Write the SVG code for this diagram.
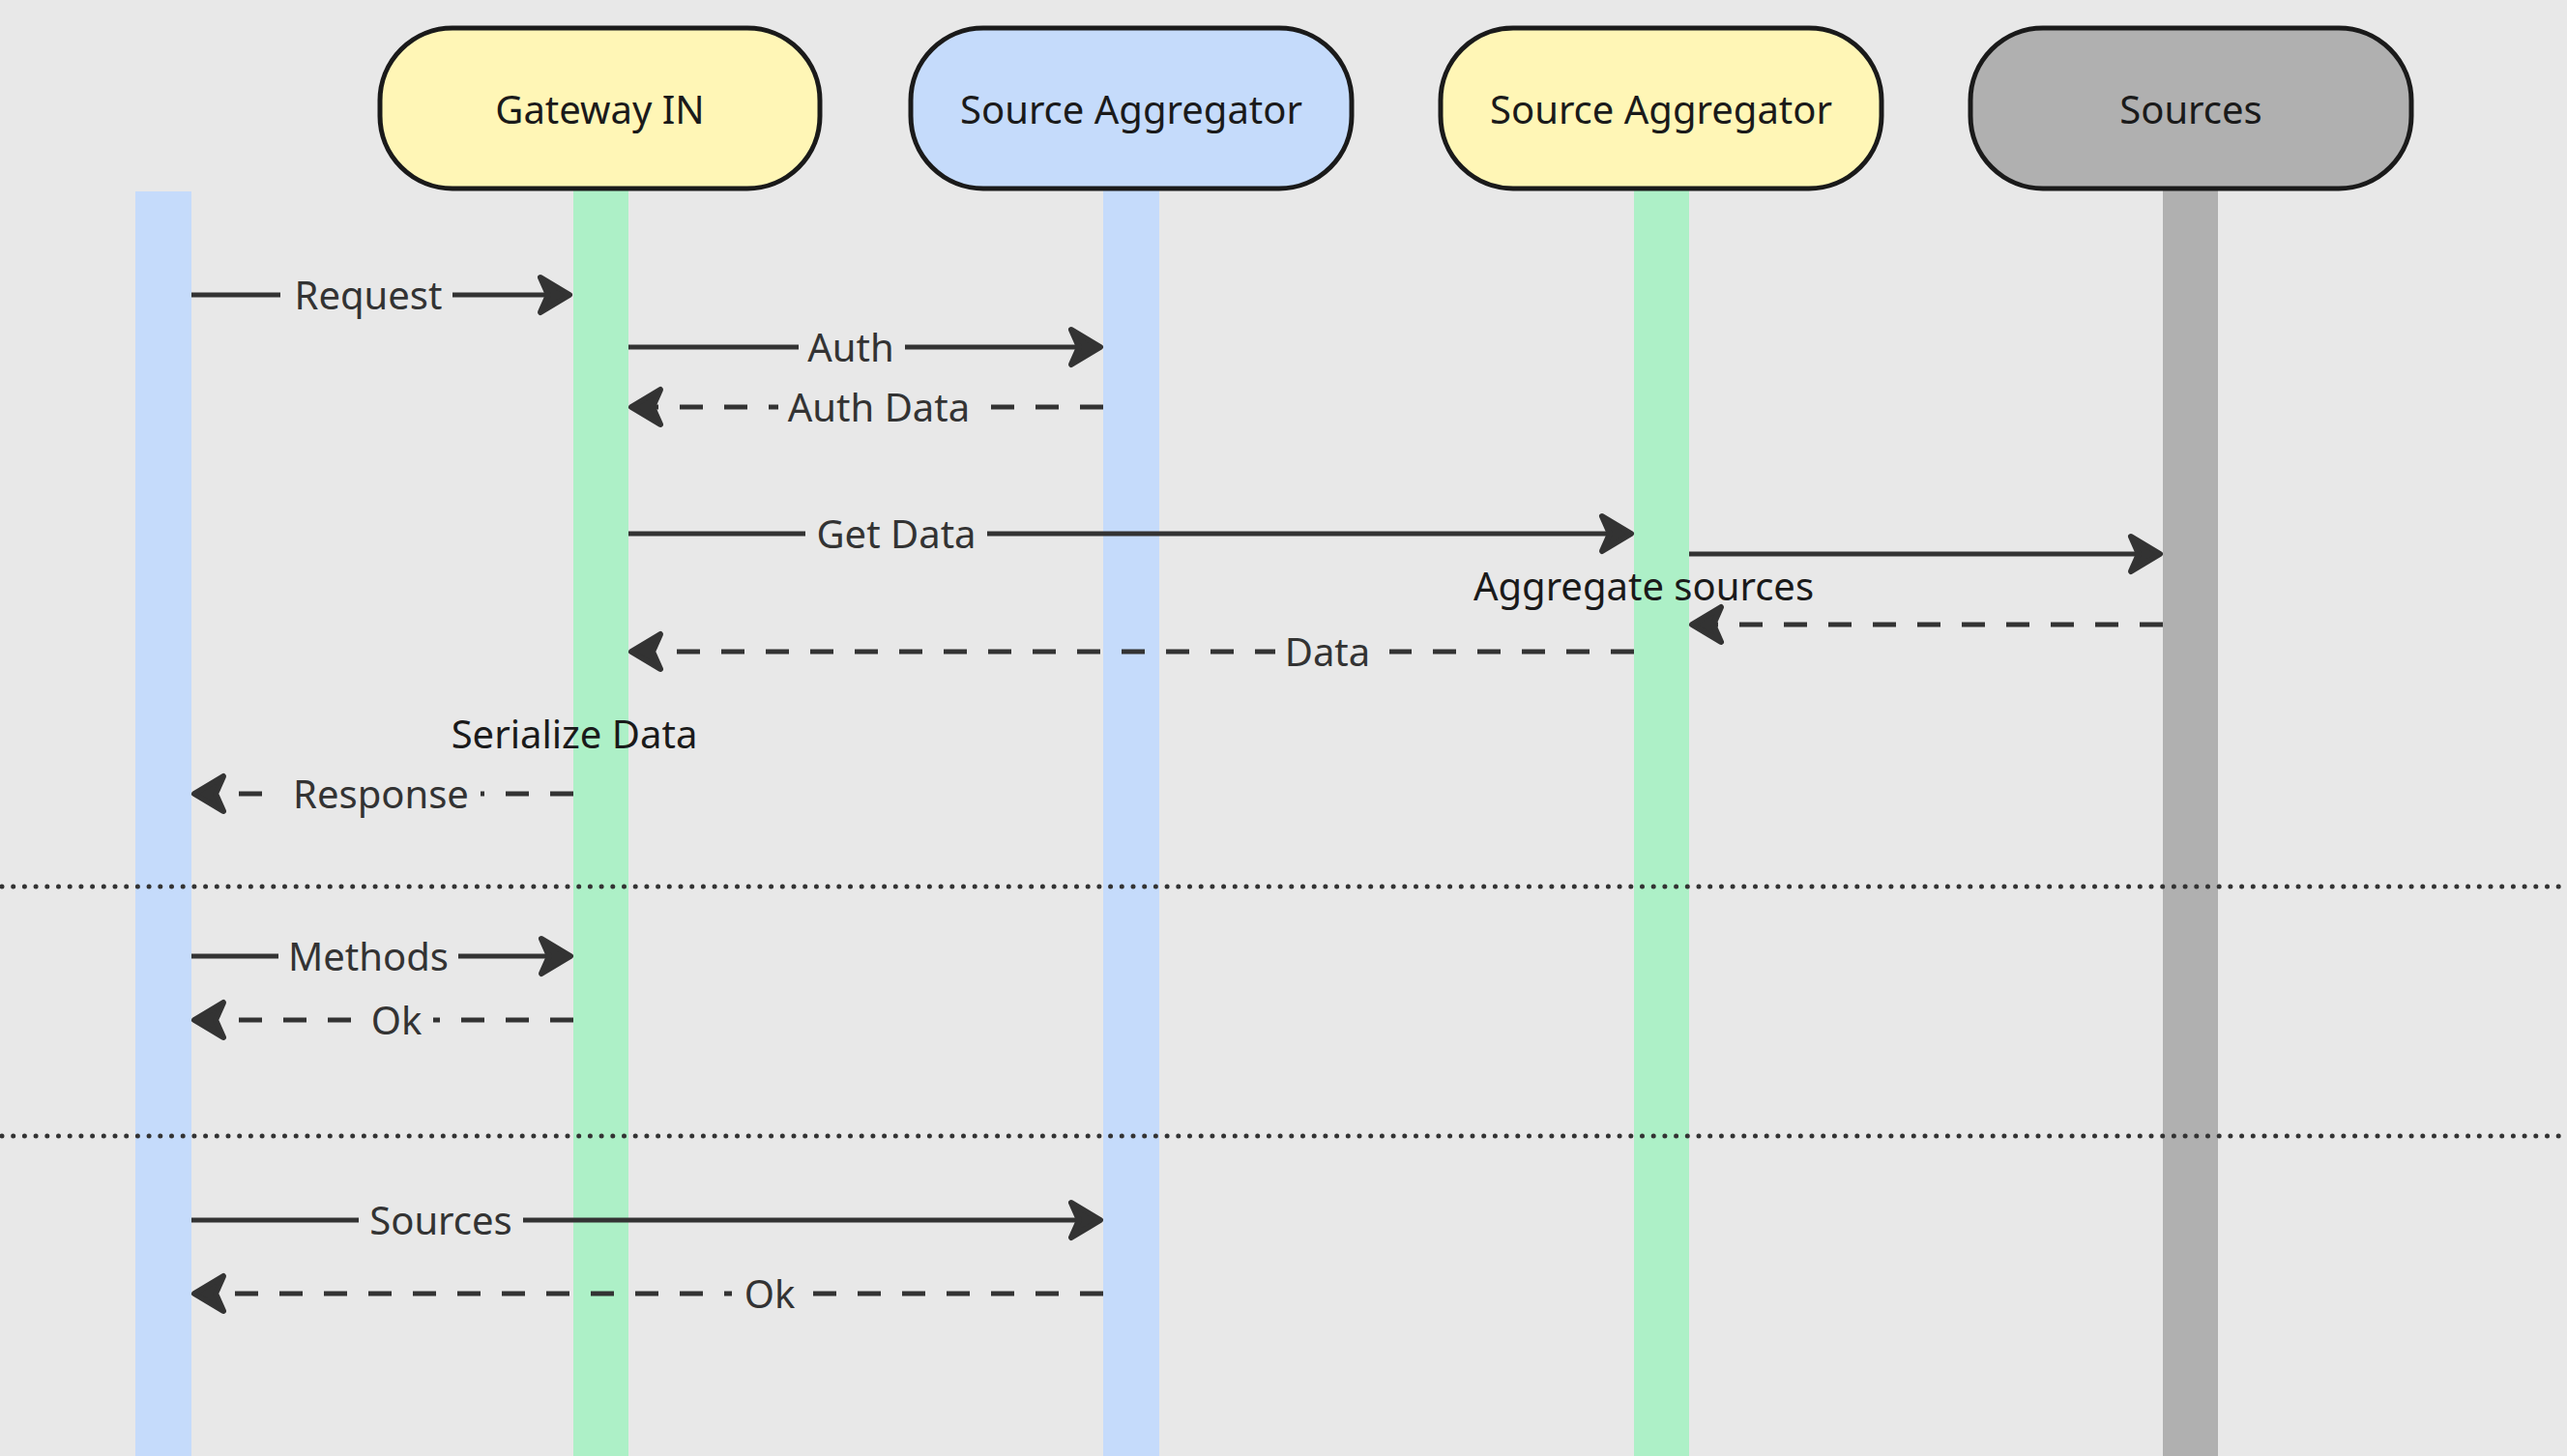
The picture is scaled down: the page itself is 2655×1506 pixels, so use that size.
<svg xmlns="http://www.w3.org/2000/svg" width="2655" height="1506" viewBox="0 0 2655 1506">
<style>
.bg{fill:#e8e8e8}
.box{stroke:#1a1a1a;stroke-width:5}
.ntext{font-family:"Noto Sans","Open Sans","Liberation Sans",sans-serif;font-size:40px;fill:#1a1a1a;text-anchor:middle}
.lbl{font-family:"Noto Sans","Open Sans","Liberation Sans",sans-serif;font-size:40px;fill:#333333;text-anchor:middle}
.note{font-family:"Noto Sans","Open Sans","Liberation Sans",sans-serif;font-size:40px;fill:#1a1a1a;text-anchor:middle}
.solid{stroke:#333333;stroke-width:5;fill:none;marker-end:url(#arrow)}
.dash{stroke:#333333;stroke-width:5;fill:none;stroke-dasharray:24 22;marker-end:url(#arrow)}
.sep{stroke:#333333;stroke-width:5;fill:none;stroke-dasharray:0 11.7;stroke-linecap:round}
.lblbg{fill:#e8e8e8}
.blue{fill:#c5dbfb}
.green{fill:#adf0c7}
.yellow{fill:#fff6b6}
.gray{fill:#b0b0b0}
</style>
<defs>
<marker id="arrow" markerUnits="userSpaceOnUse" viewBox="-40 -25 50 50" markerWidth="50" markerHeight="50" refX="-24" refY="0" orient="auto" overflow="visible">
<path d="M-33,-18 L-3,0 L-33,18 L-25,0 Z" fill="#333333" stroke="#333333" stroke-width="6" stroke-linejoin="round"/>
</marker>
</defs>
<rect class="bg" x="0" y="0" width="2655" height="1506"/>

<g id="lifeline-client">
<rect class="blue" x="140" y="198" width="58" height="1308"/>
</g>
<g id="node-gateway-in">
<rect class="green" x="593" y="195" width="57" height="1311"/>
<rect class="box yellow" x="393" y="29" width="455" height="166" rx="75" ry="75"/>
<text class="ntext" x="620.5" y="128">Gateway IN</text>
</g>
<g id="node-source-aggregator-1">
<rect class="blue" x="1141" y="195" width="58" height="1311"/>
<rect class="box blue" x="942" y="29" width="456" height="166" rx="75" ry="75"/>
<text class="ntext" x="1170" y="128">Source Aggregator</text>
</g>
<g id="node-source-aggregator-2">
<rect class="green" x="1690" y="195" width="57" height="1311"/>
<rect class="box yellow" x="1490" y="29" width="456" height="166" rx="75" ry="75"/>
<text class="ntext" x="1718" y="128">Source Aggregator</text>
</g>
<g id="node-sources">
<rect class="gray" x="2237" y="195" width="57" height="1311"/>
<rect class="box gray" x="2038" y="29" width="456" height="166" rx="75" ry="75"/>
<text class="ntext" x="2266" y="128">Sources</text>
</g>

<g id="connectors">
<path class="solid" d="M198,305 H568"/>
<rect class="lblbg" x="290" y="285" width="178" height="44"/>
<text class="lbl" x="381" y="320">Request</text>

<path class="solid" d="M650,359 H1117"/>
<rect class="lblbg" x="826" y="339" width="110" height="44"/>
<text class="lbl" x="880" y="374">Auth</text>

<path class="dash" d="M1141,421 H674"/>
<rect class="lblbg" x="805" y="401" width="208" height="44"/>
<text class="lbl" x="909" y="436">Auth Data</text>

<path class="solid" d="M650,552 H1666"/>
<rect class="lblbg" x="833" y="532" width="188" height="44"/>
<text class="lbl" x="927" y="567">Get Data</text>

<path class="solid" d="M1747,573 H2213"/>
<path class="dash" d="M2237,646 H1771"/>

<path class="dash" d="M1690,674 H674"/>
<rect class="lblbg" x="1319" y="654" width="118" height="44"/>
<text class="lbl" x="1373" y="689">Data</text>

<path class="dash" d="M593,821 H222"/>
<rect class="lblbg" x="293" y="801" width="204" height="44"/>
<text class="lbl" x="394" y="836">Response</text>

<path class="sep" d="M2,917 H2655"/>

<path class="solid" d="M198,989 H569"/>
<rect class="lblbg" x="288" y="969" width="186" height="44"/>
<text class="lbl" x="381" y="1004">Methods</text>

<path class="dash" d="M593,1055 H222"/>
<rect class="lblbg" x="372" y="1035" width="76" height="44"/>
<text class="lbl" x="410" y="1070">Ok</text>

<path class="sep" d="M2,1175 H2655"/>

<path class="solid" d="M198,1262 H1117"/>
<rect class="lblbg" x="371" y="1242" width="170" height="44"/>
<text class="lbl" x="456" y="1277">Sources</text>

<path class="dash" d="M1141,1338 H222"/>
<rect class="lblbg" x="757" y="1318" width="77" height="44"/>
<text class="lbl" x="796" y="1353">Ok</text>

<text class="note" x="594" y="774">Serialize Data</text>
<text class="note" x="1700" y="621">Aggregate sources</text>
</g>
</svg>
